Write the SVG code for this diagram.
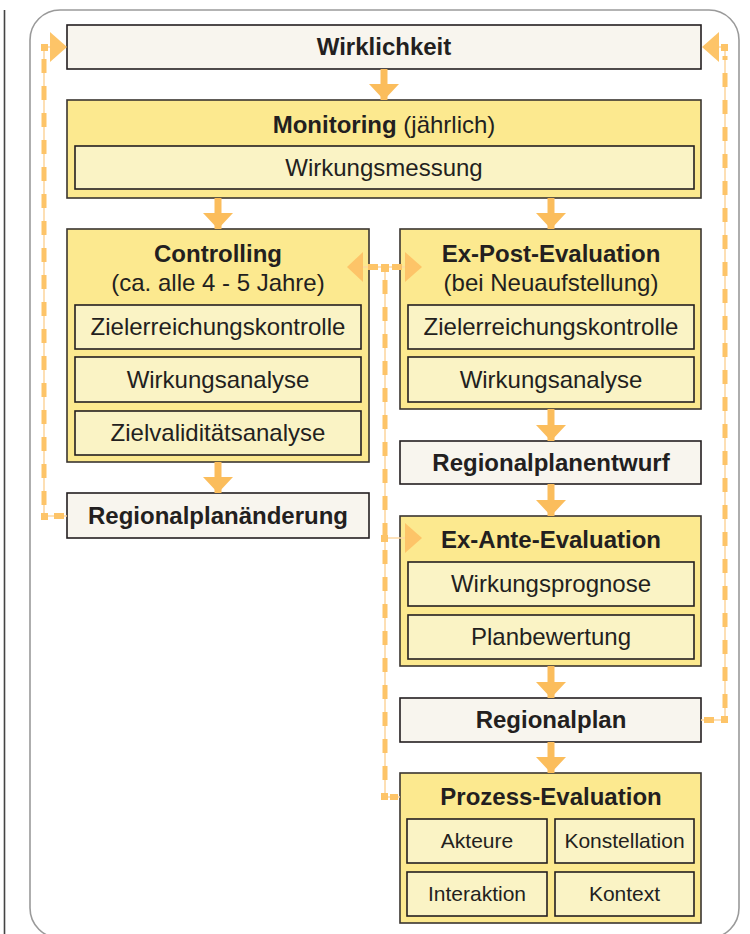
<svg xmlns="http://www.w3.org/2000/svg" width="750" height="934" viewBox="0 0 750 934">
<defs>
<style>
.t{font-family:"Liberation Sans",Arial,sans-serif;font-size:24px;fill:#231f20;text-anchor:middle}
.b{font-weight:bold}
.s{font-size:21px}
.real{fill:#f8f5ee;stroke:#231f20;stroke-width:1.6}
.outer{fill:#fce98f;stroke:#3a3530;stroke-width:1.6}
.inner{fill:#faf3c5;stroke:#231f20;stroke-width:1.6}
.arr{stroke:#fbbd5c;stroke-width:7;fill:none;marker-end:url(#ah)}
.dthin{stroke:#fdd8a2;stroke-width:1.6;fill:none}
.ddash{stroke:#fdc468;stroke-width:5;fill:none;stroke-dasharray:14 13}
.dh{fill:#fdc468}
</style>
<marker id="ah" markerUnits="userSpaceOnUse" markerWidth="16" markerHeight="30" viewBox="0 0 16 30" refX="16" refY="15" orient="auto"><path d="M0,0 L16,15 L0,30 Z" fill="#fbbd5c"/></marker>
</defs>
<rect width="750" height="934" fill="#ffffff"/>
<line x1="4.5" y1="10" x2="4.5" y2="934" stroke="#444" stroke-width="1.6"/>
<rect x="30" y="10" width="709" height="928" rx="30" ry="30" fill="none" stroke="#9a9a9a" stroke-width="1.6"/>

<g id="wirklichkeit">
<rect class="real" x="67" y="25" width="634" height="44"/>
<text class="t b" x="384" y="55">Wirklichkeit</text>
</g>

<g id="monitoring">
<rect class="outer" x="67" y="100" width="634" height="98"/>
<text class="t" x="384" y="133"><tspan class="b">Monitoring</tspan> (jährlich)</text>
<rect class="inner" x="75" y="146" width="619" height="43"/>
<text class="t" x="384" y="176">Wirkungsmessung</text>
</g>

<g id="controlling">
<rect class="outer" x="67" y="229" width="302" height="233"/>
<text class="t b" x="218" y="262">Controlling</text>
<text class="t" x="218" y="291">(ca. alle 4 - 5 Jahre)</text>
<rect class="inner" x="75" y="305" width="286" height="44"/>
<text class="t" x="218" y="335">Zielerreichungskontrolle</text>
<rect class="inner" x="75" y="357" width="286" height="45"/>
<text class="t" x="218" y="388">Wirkungsanalyse</text>
<rect class="inner" x="75" y="411" width="286" height="44"/>
<text class="t" x="218" y="441">Zielvaliditätsanalyse</text>
</g>

<g id="regionalplanaenderung">
<rect class="real" x="67" y="493" width="302" height="45"/>
<text class="t b" x="218" y="524">Regionalplanänderung</text>
</g>

<g id="expost">
<rect class="outer" x="400" y="229" width="301" height="180"/>
<text class="t b" x="551" y="262">Ex-Post-Evaluation</text>
<text class="t" x="551" y="291">(bei Neuaufstellung)</text>
<rect class="inner" x="408" y="305" width="286" height="44"/>
<text class="t" x="551" y="335">Zielerreichungskontrolle</text>
<rect class="inner" x="408" y="357" width="286" height="45"/>
<text class="t" x="551" y="388">Wirkungsanalyse</text>
</g>

<g id="regionalplanentwurf">
<rect class="real" x="400" y="441" width="301" height="43"/>
<text class="t b" x="551" y="471">Regionalplanentwurf</text>
</g>

<g id="exante">
<rect class="outer" x="400" y="516" width="301" height="150"/>
<text class="t b" x="551" y="548">Ex-Ante-Evaluation</text>
<rect class="inner" x="408" y="562" width="286" height="44"/>
<text class="t" x="551" y="592">Wirkungsprognose</text>
<rect class="inner" x="408" y="615" width="286" height="44"/>
<text class="t" x="551" y="645">Planbewertung</text>
</g>

<g id="regionalplan">
<rect class="real" x="400" y="698" width="301" height="44"/>
<text class="t b" x="551" y="728">Regionalplan</text>
</g>

<g id="prozess">
<rect class="outer" x="400" y="773" width="301" height="150"/>
<text class="t b" x="551" y="805">Prozess-Evaluation</text>
<rect class="inner" x="407" y="819" width="140" height="44"/>
<text class="t s" x="477" y="848">Akteure</text>
<rect class="inner" x="555" y="819" width="139" height="44"/>
<text class="t s" x="624.5" y="848">Konstellation</text>
<rect class="inner" x="407" y="872" width="140" height="44"/>
<text class="t s" x="477" y="901">Interaktion</text>
<rect class="inner" x="555" y="872" width="139" height="44"/>
<text class="t s" x="624.5" y="901">Kontext</text>
</g>

<g id="connectors">
<line class="arr" x1="384" y1="69" x2="384" y2="100"/>
<line class="arr" x1="218" y1="198" x2="218" y2="229"/>
<line class="arr" x1="551" y1="198" x2="551" y2="229"/>
<line class="arr" x1="218" y1="462" x2="218" y2="493"/>
<line class="arr" x1="551" y1="409" x2="551" y2="441"/>
<line class="arr" x1="551" y1="484" x2="551" y2="516"/>
<line class="arr" x1="551" y1="666" x2="551" y2="698"/>
<line class="arr" x1="551" y1="742" x2="551" y2="773"/>
<!-- left feedback loop -->
<path class="dthin" d="M67,516 H44 V47 H52"/>
<path class="ddash" d="M44,505 V55"/>
<rect class="dh" x="41" y="513" width="7" height="7"/>
<rect class="dh" x="54" y="513" width="10" height="6"/>
<rect class="dh" x="41" y="44" width="7" height="7"/>
<path class="dh" d="M50,32 L67,47 L50,62 Z"/>
<!-- right feedback loop -->
<path class="dthin" d="M701,720 H725 V47 H716"/>
<path class="ddash" d="M725,708 V56"/>
<rect class="dh" x="721" y="716" width="7" height="7"/>
<rect class="dh" x="704" y="717" width="10" height="6"/>
<rect class="dh" x="721" y="44" width="7" height="7"/>
<path class="dh" d="M719,32 L702,47 L719,62 Z"/>
<!-- middle loop -->
<path class="dthin" d="M363,267 H405 M385,267 V797 H400 M385,538 H405"/>
<path class="ddash" d="M385,280 V785"/>
<rect class="dh" x="368" y="264" width="10" height="6"/>
<rect class="dh" x="392" y="264" width="10" height="6"/>
<rect class="dh" x="381" y="264" width="8" height="8"/>
<rect class="dh" x="381" y="535" width="7" height="7"/>
<rect class="dh" x="381" y="793" width="7" height="7"/>
<rect class="dh" x="390" y="794" width="8" height="6"/>
<path class="dh" d="M363,252 L347,267 L363,282 Z"/>
<path class="dh" d="M405,252 L422,267 L405,282 Z"/>
<path class="dh" d="M405,523 L422,538 L405,553 Z"/>
</g>
</svg>
